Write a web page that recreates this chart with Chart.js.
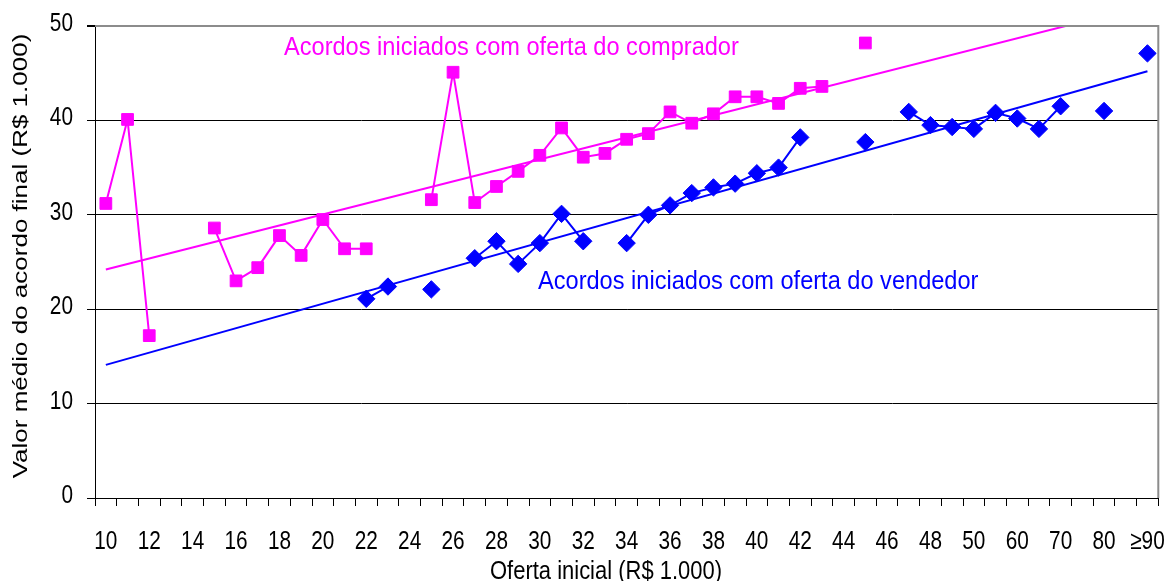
<!DOCTYPE html>
<html>
<head>
<meta charset="utf-8">
<script src="https://cdn.jsdelivr.net/npm/chart.js@4/dist/chart.umd.min.js"></script>
<style>
  html, body { margin: 0; padding: 0; background: #fff; }
  #wrap { width: 1168px; height: 581px; position: relative; }
</style>
</head>
<body>
<div id="wrap"><canvas id="chart"></canvas></div>
<script>
// Oferta inicial (R$ 1.000) - one category per value, every other one labelled
const categories = [
  '10','11','12','13','14','15','16','17','18','19',
  '20','21','22','23','24','25','26','27','28','29',
  '30','31','32','33','34','35','36','37','38','39',
  '40','41','42','43','44','45','46','47','48','49',
  '50','55','60','65','70','75','80','85','≥90'
];

// Acordos iniciados com oferta do comprador
const compradorValues = [
  31.2, 40.1, 17.2, null, null, 28.6, 23.0, 24.4, 27.8, 25.7,
  29.5, 26.4, 26.4, null, null, 31.6, 45.1, 31.3, 33.0, 34.6,
  36.3, 39.2, 36.1, 36.5, 38.0, 38.6, 40.9, 39.7, 40.7, 42.5,
  42.5, 41.8, 43.4, 43.6, null, 48.2, null, null, null, null,
  null, null, null, null, null, null, null, null, null
];

// Acordos iniciados com oferta do vendedor
const vendedorValues = [
  null, null, null, null, null, null, null, null, null, null,
  null, null, 21.1, 22.4, null, 22.1, null, 25.4, 27.2, 24.8,
  27.0, 30.1, 27.2, null, 27.0, 30.0, 31.0, 32.3, 32.9, 33.3,
  34.4, 35.0, 38.2, null, null, 37.7, null, 40.9, 39.5, 39.3,
  39.1, 40.8, 40.2, 39.1, 41.5, null, 41.0, null, 47.1
];

// linear trend lines: value at first and last category
const compradorTrend = [24.2, 52.2];
const vendedorTrend = [14.1, 45.2];

const yTicks = [0, 10, 20, 30, 40, 50];

const PINK = '#ff00ff';
const BLUE = '#0000ff';
const FONT = "26px 'Liberation Sans', Arial, sans-serif";

function trendData(ends) {
  const d = categories.map(() => null);
  d[0] = ends[0];
  d[d.length - 1] = ends[1];
  return d;
}

// the picture uses a squeezed Arial, so text is drawn with a horizontal scale
function drawText(ctx, text, x, y, align, sx, color) {
  ctx.save();
  ctx.translate(x, y);
  ctx.scale(sx, 1);
  ctx.font = FONT;
  ctx.textAlign = align;
  ctx.textBaseline = 'alphabetic';
  ctx.fillStyle = color;
  ctx.fillText(text, 0, 0);
  ctx.restore();
}

// frame on top/right, tick labels and the free texts
const decorPlugin = {
  id: 'decor',
  afterDraw(chart) {
    const { ctx, chartArea: a } = chart;
    const xs = chart.scales.x;
    const ys = chart.scales.y;
    ctx.save();
    ctx.strokeStyle = '#8c8c8c';
    ctx.lineWidth = 2;
    ctx.beginPath();
    ctx.moveTo(a.left, a.top);
    ctx.lineTo(a.right, a.top);
    ctx.lineTo(a.right, a.bottom);
    ctx.stroke();
    ctx.restore();

    categories.forEach((c, i) => {
      if (i % 2 === 0) drawText(ctx, c, xs.getPixelForValue(i), 549, 'center', 0.8, '#000');
    });
    yTicks.forEach(v => {
      drawText(ctx, String(v), 73, ys.getPixelForValue(v) + 5, 'right', 0.8, '#000');
    });

    drawText(ctx, 'Acordos iniciados com oferta do comprador', 284, 55, 'left', 0.907, PINK);
    drawText(ctx, 'Acordos iniciados com oferta do vendedor', 538, 289, 'left', 0.907, BLUE);
    drawText(ctx, 'Oferta inicial (R$ 1.000)', 606, 579, 'center', 0.845, '#000');

    ctx.save();
    ctx.translate(27, 256);
    ctx.rotate(-Math.PI / 2);
    ctx.scale(1, 0.75);
    ctx.font = FONT;
    ctx.textAlign = 'center';
    ctx.fillStyle = '#000';
    ctx.fillText('Valor médio do acordo final (R$ 1.000)', 0, 0);
    ctx.restore();
  }
};

const ctx = document.getElementById('chart').getContext('2d');
new Chart(ctx, {
  type: 'line',
  data: {
    labels: categories,
    datasets: [
      {
        label: 'comprador',
        data: compradorValues,
        borderColor: PINK,
        backgroundColor: PINK,
        borderWidth: 2,
        pointStyle: 'rect',
        pointRadius: 8.3,
        pointBorderWidth: 1,
        spanGaps: false,
        tension: 0
      },
      {
        label: 'vendedor',
        data: vendedorValues,
        borderColor: BLUE,
        backgroundColor: BLUE,
        borderWidth: 2,
        pointStyle: 'rectRot',
        pointRadius: 8.7,
        pointBorderWidth: 1,
        spanGaps: false,
        tension: 0
      },
      {
        label: 'tendência comprador',
        data: trendData(compradorTrend),
        borderColor: PINK,
        borderWidth: 2,
        pointRadius: 0,
        spanGaps: true
      },
      {
        label: 'tendência vendedor',
        data: trendData(vendedorTrend),
        borderColor: BLUE,
        borderWidth: 2,
        pointRadius: 0,
        spanGaps: true
      }
    ]
  },
  options: {
    responsive: true,
    maintainAspectRatio: false,
    animation: false,
    layout: { padding: { top: 26, right: 9, left: 0, bottom: 0 } },
    plugins: {
      legend: { display: false },
      tooltip: { enabled: false }
    },
    scales: {
      x: {
        type: 'category',
        offset: true,
        border: { display: true, color: '#000', width: 1 },
        grid: {
          offset: true,
          drawOnChartArea: false,
          drawTicks: true,
          tickLength: 8,
          color: '#000'
        },
        ticks: { display: false, autoSkip: false },
        afterFit(scale) {
          scale.height = 83;
          scale.paddingLeft = 0;
          scale.paddingRight = 0;
        }
      },
      y: {
        min: 0,
        max: 50,
        border: { display: true, color: '#000', width: 1 },
        afterBuildTicks(scale) {
          scale.ticks = yTicks.map(v => ({ value: v }));
        },
        grid: {
          drawTicks: true,
          tickLength: 8,
          tickColor: '#000',
          color: c => (c.tick && c.tick.value === 50 ? '#8c8c8c' : '#000'),
          lineWidth: c => (c.tick && c.tick.value === 50 ? 2 : 1)
        },
        ticks: { display: false },
        afterFit(scale) {
          scale.width = 95;
          scale.paddingTop = 0;
          scale.paddingBottom = 0;
        }
      }
    }
  },
  plugins: [decorPlugin]
});
</script>
</body>
</html>
